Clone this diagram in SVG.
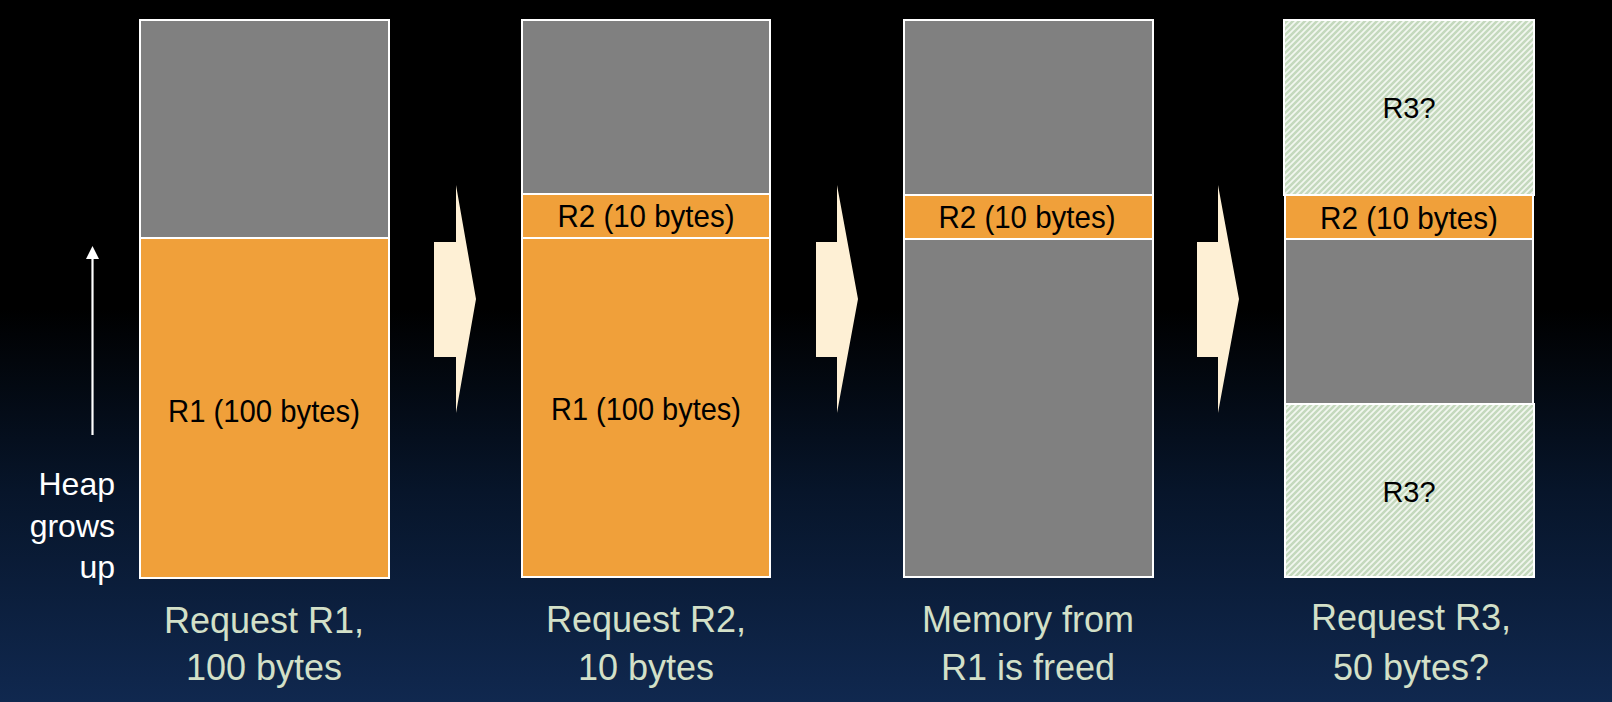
<svg xmlns="http://www.w3.org/2000/svg" width="1612" height="702" viewBox="0 0 1612 702">
<defs>
<linearGradient id="bg" x1="0" y1="0" x2="0" y2="1">
<stop offset="0" stop-color="#000000"/>
<stop offset="0.44" stop-color="#000000"/>
<stop offset="0.7" stop-color="#07152A"/>
<stop offset="1" stop-color="#10284F"/>
</linearGradient>
<pattern id="hatch" patternUnits="userSpaceOnUse" width="6" height="6">
<rect width="6" height="6" fill="#F2F7F0"/>
<path d="M-1,7 L7,-1 M-4,4 L4,-4 M2,10 L10,2" stroke="#C4D9BD" stroke-width="2.5"/>
</pattern>
<style>
.gray{fill:#808080;stroke:#FFFFFF;stroke-width:2}
.orange{fill:#F0A03A;stroke:#FFFFFF;stroke-width:2}
.hatch{fill:url(#hatch);stroke:#FFFFFF;stroke-width:2}
.lbl{font-family:"Liberation Sans",Arial,sans-serif;font-size:32px;fill:#000000;text-anchor:middle}
.q{font-family:"Liberation Sans",Arial,sans-serif;font-size:29px;fill:#000000;text-anchor:middle}
.cap{font-family:"Liberation Sans",Arial,sans-serif;font-size:36px;fill:#D3E0C8;text-anchor:middle}
.side{font-family:"Liberation Sans",Arial,sans-serif;font-size:32px;fill:#FFFFFF;text-anchor:end}
.step{fill:#FEF0D5}
</style>
</defs>
<rect x="0" y="0" width="1612" height="702" fill="url(#bg)"/>

<g id="heap-label">
<line x1="92.5" y1="258" x2="92.5" y2="435" stroke="#FFFFFF" stroke-width="2.2"/>
<polygon points="86,259 92.5,246 99,259" fill="#FFFFFF"/>
<text class="side" x="115" y="495">Heap</text>
<text class="side" x="115" y="537">grows</text>
<text class="side" x="115" y="578">up</text>
</g>

<g id="state1">
<rect class="gray" x="140" y="20" width="249" height="218"/>
<rect class="orange" x="140" y="238" width="249" height="340"/>
<text class="lbl" x="264" y="422" textLength="192" lengthAdjust="spacingAndGlyphs">R1 (100 bytes)</text>
<text class="cap" x="264" y="633">Request R1,</text>
<text class="cap" x="264" y="680">100 bytes</text>
</g>

<g id="state2">
<rect class="gray" x="522" y="20" width="248" height="174"/>
<rect class="orange" x="522" y="194" width="248" height="44"/>
<rect class="orange" x="522" y="238" width="248" height="339"/>
<text class="lbl" x="646" y="227" textLength="177" lengthAdjust="spacingAndGlyphs">R2 (10 bytes)</text>
<text class="lbl" x="646" y="420" textLength="190" lengthAdjust="spacingAndGlyphs">R1 (100 bytes)</text>
<text class="cap" x="646" y="632">Request R2,</text>
<text class="cap" x="646" y="680">10 bytes</text>
</g>

<g id="state3">
<rect class="gray" x="904" y="20" width="249" height="175"/>
<rect class="orange" x="904" y="195" width="249" height="44"/>
<rect class="gray" x="904" y="239" width="249" height="338"/>
<text class="lbl" x="1027" y="228" textLength="177" lengthAdjust="spacingAndGlyphs">R2 (10 bytes)</text>
<text class="cap" x="1028" y="632">Memory from</text>
<text class="cap" x="1028" y="680">R1 is freed</text>
</g>

<g id="state4">
<rect class="hatch" x="1284" y="20" width="250" height="175"/>
<rect class="orange" x="1285" y="195" width="248" height="44"/>
<rect class="gray" x="1285" y="239" width="248" height="165"/>
<rect class="hatch" x="1285" y="404" width="249" height="173"/>
<text class="q" x="1409" y="118">R3?</text>
<text class="lbl" x="1409" y="229" textLength="178" lengthAdjust="spacingAndGlyphs">R2 (10 bytes)</text>
<text class="q" x="1409" y="502">R3?</text>
<text class="cap" x="1411" y="630">Request R3,</text>
<text class="cap" x="1411" y="680">50 bytes?</text>
</g>

<g id="connectors">
<polygon class="step" points="434,242 456,242 456,185 476,299 456,413 456,357 434,357"/>
<polygon class="step" points="816,242 837,242 837,185 858,299 837,413 837,357 816,357"/>
<polygon class="step" points="1197,242 1218,242 1218,185 1239,299 1218,413 1218,357 1197,357"/>
</g>
</svg>
